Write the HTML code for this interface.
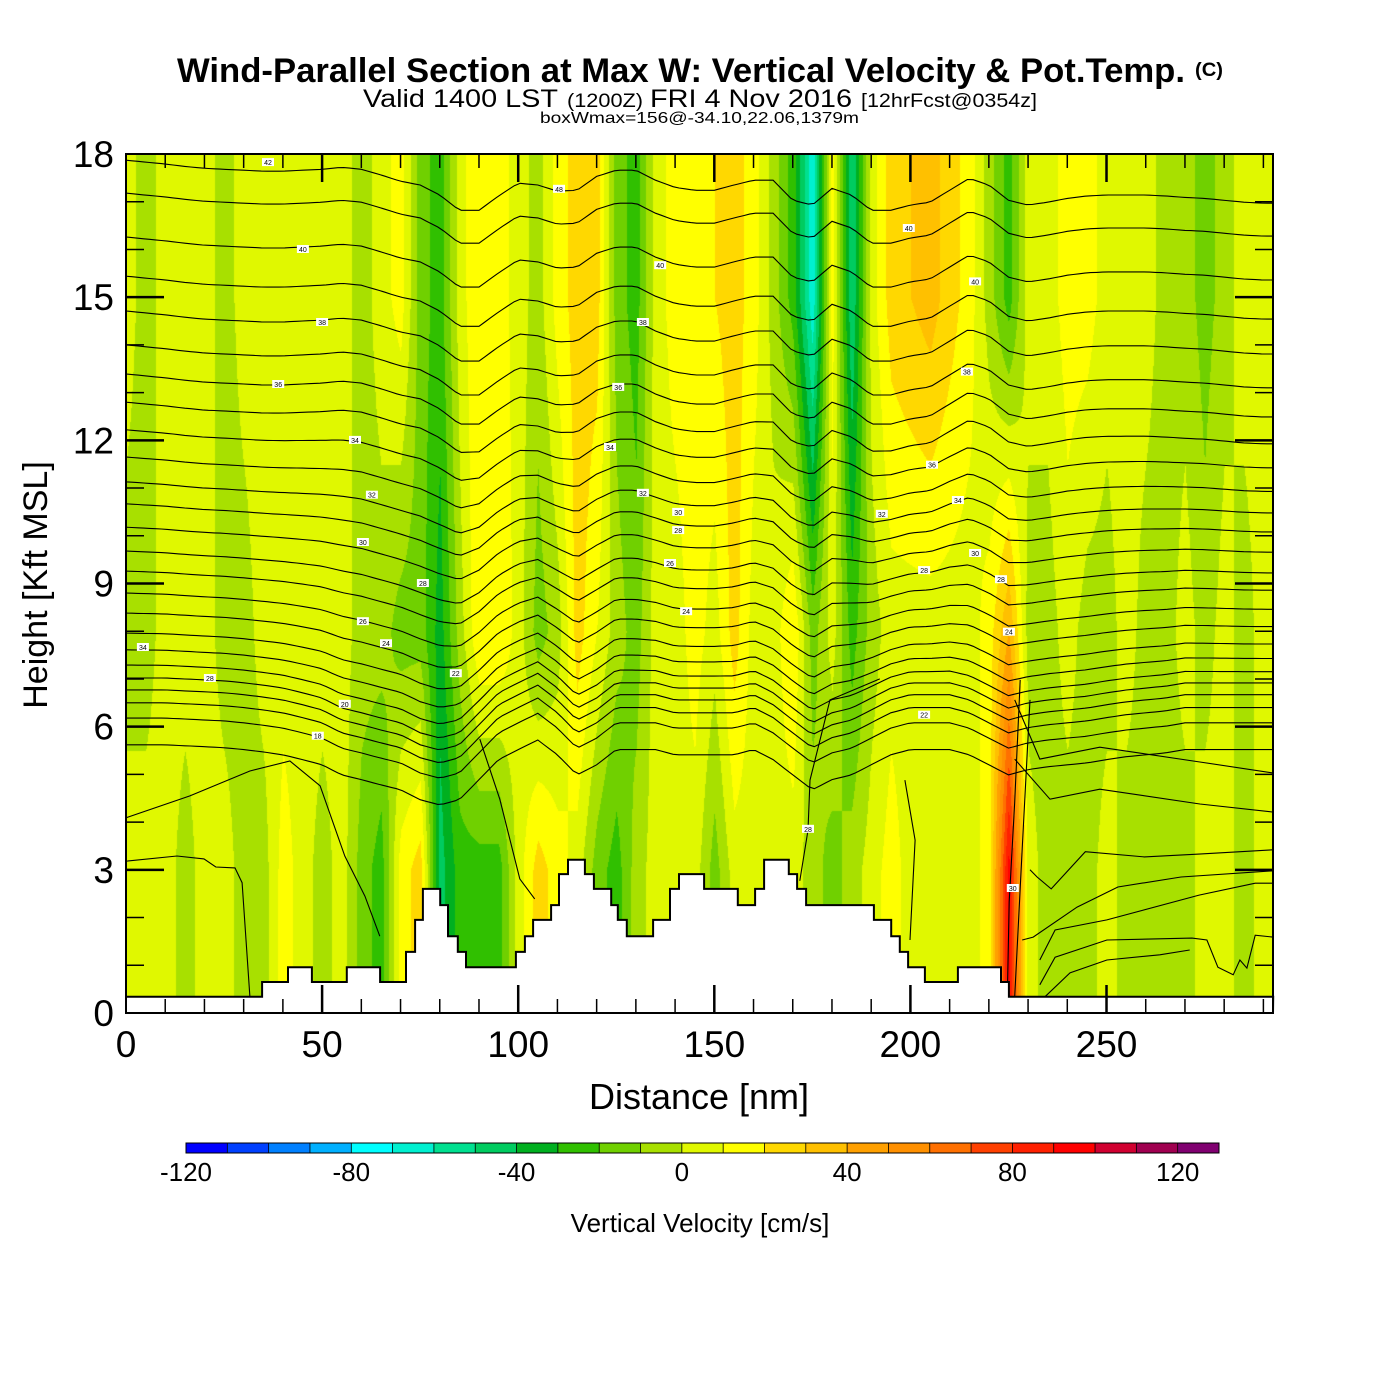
<!DOCTYPE html>
<html><head><meta charset="utf-8">
<style>
html,body{margin:0;padding:0;background:#fff;width:1400px;height:1400px;overflow:hidden}
#wrap{position:relative;width:1400px;height:1400px}
#field{position:absolute;left:126px;top:154px}
#ov{position:absolute;left:0;top:0}
text{font-family:"Liberation Sans",sans-serif}
</style></head>
<body>
<div id="wrap">
<canvas id="field" width="1147" height="859"></canvas>
<svg id="ov" width="1400" height="1400" xmlns="http://www.w3.org/2000/svg">
<g id="title">
<text x="177" y="82" font-size="34" font-weight="bold" textLength="1008" lengthAdjust="spacingAndGlyphs">Wind-Parallel Section at Max W: Vertical Velocity &amp; Pot.Temp.</text>
<text x="1195" y="76" font-size="19" font-weight="bold" textLength="28" lengthAdjust="spacingAndGlyphs">(C)</text>
<text x="363" y="107" font-size="25" textLength="195" lengthAdjust="spacingAndGlyphs">Valid 1400 LST</text>
<text x="567" y="107" font-size="19" textLength="76" lengthAdjust="spacingAndGlyphs">(1200Z)</text>
<text x="650" y="107" font-size="25" textLength="202" lengthAdjust="spacingAndGlyphs">FRI 4 Nov 2016</text>
<text x="861" y="107" font-size="19" textLength="176" lengthAdjust="spacingAndGlyphs">[12hrFcst@0354z]</text>
<text x="540" y="123" font-size="16" textLength="319" lengthAdjust="spacingAndGlyphs">boxWmax=156@-34.10,22.06,1379m</text>
</g>
<g id="lines"></g>
<g id="terrain"></g>
<g id="labels"></g>
<g id="axes"></g>
<g id="cbar"></g>
</svg>
</div>
<script>
// ---- data ----
const xStep = 5; // nm spacing of column arrays
const wTop = [5,-5,5,5,5,-5,5,5,5,5,5,5,-5,5,15,-15,-25,5,20,15,5,-5,15,25,25,-15,-25,5,15,15,20,25,15,-5,-25,-68,15,-50,5,25,30,35,25,15,-5,-25,5,5,15,15,5,5,5,-5,-5,-15,-5,5,5];
const wMid = [-5,-5,5,5,5,-5,-5,5,5,5,5,5,-5,-5,-15,-15,-35,-5,20,20,5,-15,-5,25,10,-5,-15,5,5,15,5,25,5,5,20,-15,5,-25,-5,5,5,5,5,5,15,40,-5,-5,5,-5,-5,5,-5,-5,5,-5,5,-5,5];
const wLow = [5,5,5,-5,5,5,-5,-5,15,5,-5,5,-15,-25,15,25,-45,-25,-25,-25,5,25,15,5,-15,-25,-5,5,5,5,-15,5,5,5,5,-5,-15,-5,5,15,5,5,5,5,15,95,5,-5,-5,-5,5,-5,-5,-5,-5,5,5,-5,5];
const levelKft = [3, 8, 15];
const binColors = ["#0000ff","#0040ff","#0080ff","#00b0ff","#00ffff","#00f0d0","#00e090","#00cc60","#00b020","#30c000","#70d000","#a8e000","#e0f800","#ffff00","#ffd800","#ffc000","#ffa000","#ff9000","#ff7000","#ff4000","#ff2000","#ff0000","#d00030","#a00050","#800070"];
const cbarTicks = [-120,-80,-40,0,40,80,120];
const terrainEdges = [0,34.7,41.3,47.4,56.3,64.8,71.4,73.7,75.7,80.1,82.1,84.6,86.7,99.4,101.7,103.8,108.4,110.4,112.7,117.0,119.3,123.7,125.4,127.7,134.4,138.7,141.0,147.4,156.0,160.4,162.7,169.0,171.1,173.4,190.7,195.1,197.3,199.4,203.7,212.1,223.1,225.1,292.5];
const terrainKft = [0.34,0.65,0.96,0.65,0.96,0.65,1.28,1.95,2.6,2.26,1.61,1.28,0.96,1.28,1.61,1.95,2.26,2.91,3.21,2.91,2.6,2.26,1.95,1.61,1.95,2.6,2.91,2.6,2.26,2.6,3.21,2.91,2.6,2.26,1.95,1.61,1.28,0.96,0.65,0.96,0.65,0.34];
const thetaBaseKft = [17.87,17.18,16.26,15.44,14.71,14.0,13.39,12.8,12.22,11.65,11.13,10.67,10.18,9.68,9.26,8.80,8.38,7.96,7.61,7.29,7.02,6.77,6.50,6.18,5.62];
const dispUpper = [0,-.04,-.08,-.13,-.17,-.19,-.21,-.23,-.23,-.21,-.19,-.15,-.19,-.31,-.44,-.52,-.73,-1.05,-1.05,-.75,-.48,-.52,-.65,-.63,-.34,-.21,-.21,-.42,-.57,-.63,-.63,-.52,-.42,-.42,-.84,-.94,-.59,-.73,-1.05,-1.05,-.94,-.88,-.63,-.38,-.52,-.84,-.94,-.88,-.8,-.75,-.73,-.73,-.73,-.75,-.78,-.8,-.84,-.88,-.9];
const dispLower = [0,0,0,-.02,-.04,-.06,-.1,-.15,-.21,-.31,-.42,-.63,-.73,-.84,-.94,-1.15,-1.26,-1.15,-.73,-.31,-.1,.1,-.21,-.63,-.42,-.1,-.1,-.1,-.21,-.21,-.21,-.21,-.1,-.31,-.63,-.94,-.73,-.63,-.42,-.21,-.1,-.1,-.1,-.21,-.42,-.63,-.52,-.46,-.42,-.38,-.31,-.25,-.21,-.17,-.1,-.1,-.1,-.1,-.1];
// low-level contour segments: nm and kft arrays
const lowLinesNm = [
 [226.6,233.0,248.3,273.8,292.5],
 [226.6,235.6,248.3,273.8,292.5],
 [230.5,232.3,235.9,244.6,259.6,273.6,292.5],
 [228.5,231.3,242.5,252.9,269.0,292.5],
 [233.0,236.9,250.1,273.6,287.9,292.5],
 [233.0,236.9,250.1,271.8,275.6,278.4,282.3,284.0,285.8,287.9,292.5],
 [234.3,240.7,250.1,263.6,271.2],
 [228.0,226.6,225.2,224.7],
 [230.5,228.5,226.6,226.6],
 [0,13.0,19.9,22.9,27.8,29.6,31.6],
 [0,16.3,31.6,41.8,49.5,55.8,60.9,64.7],
 [90.2,95.3,100.4,104.2],
 [192.2,179.5,174.4,173.9,171.8],
 [198.6,201.2,199.9]
];
const lowLinesKft = [
 [6.56,5.32,5.57,5.26,5.03],
 [5.32,4.48,4.69,4.38,4.21],
 [3.00,2.85,2.60,3.38,3.27,3.33,3.42],
 [1.53,1.59,2.22,2.64,2.85,2.98],
 [1.11,1.74,1.95,2.47,2.72,2.72],
 [0.59,1.17,1.53,1.57,1.53,0.96,0.80,1.11,0.94,1.63,1.59],
 [0.34,0.84,1.11,1.22,1.32],
 [6.98,4.42,2.33,0.34],
 [6.56,3.44,0.34,0.34],
 [3.18,3.29,3.23,3.06,3.04,2.73,0.34],
 [4.09,4.55,5.07,5.28,4.76,3.29,2.45,1.61],
 [5.74,4.48,2.81,2.39],
 [7.00,6.56,4.88,3.83,2.77],
 [4.88,3.62,1.53]
];
const labelText = ["42","40","38","36","34","32","30","26","24","22","20","18","34","28","48","40","38","36","34","32","30","28","26","24","40","40","38","36","34","32","30","28","28","24","22","28","30","28"];
const labelNm = [36.2,45.1,50.0,38.8,58.4,62.7,60.4,60.4,66.3,84.1,55.8,48.9,4.3,21.4,110.4,136.2,131.8,125.5,123.4,131.8,140.8,140.8,138.7,142.8,199.6,216.5,214.4,205.5,212.1,192.7,216.5,203.5,223.1,225.1,203.5,173.9,226.1,75.7];
const labelKft = [17.83,16.01,14.48,13.18,12.01,10.86,9.87,8.21,7.75,7.12,6.48,5.81,7.67,7.02,17.27,15.67,14.48,13.12,11.86,10.90,10.50,10.12,9.43,8.42,16.45,15.33,13.44,11.49,10.75,10.46,9.64,9.28,9.09,7.99,6.25,3.86,2.62,9.01];

// ---- scales ----
const X0=126, X1=1273, Y0=1013, Y1=154;
const pxPerNm=(X1-X0)/292.45, pxPerKft=(Y0-Y1)/18;
const xs = nm => X0 + nm*pxPerNm;
const ys = k => Y0 - k*pxPerKft;
const NS="http://www.w3.org/2000/svg";
function mk(tag, attrs, parent){const e=document.createElementNS(NS,tag);for(const k in attrs)e.setAttribute(k,attrs[k]);parent.appendChild(e);return e;}
function colInterp(arr, nm){const f=nm/xStep;const i=Math.max(0,Math.min(arr.length-2,Math.floor(f)));const t=Math.max(0,Math.min(1,f-i));return arr[i]*(1-t)+arr[i+1]*t;}
function binColorIdx(v){let b=Math.floor((v+120)/10);return Math.max(0,Math.min(24,b));}
function hex2rgb(h){return [parseInt(h.substr(1,2),16),parseInt(h.substr(3,2),16),parseInt(h.substr(5,2),16)];}

// ---- field ----
(function(){
 const cv=document.getElementById('field');const ctx=cv.getContext('2d');
 const W=cv.width,H=cv.height;const img=ctx.createImageData(W,H);const rgb=binColors.map(hex2rgb);
 for(let px=0;px<W;px++){
  const nm=px/pxPerNm;
  const a=colInterp(wLow,nm),b=colInterp(wMid,nm),c=colInterp(wTop,nm);
  for(let py=0;py<H;py++){
   const k=(H-py)/pxPerKft;let v;
   if(k<=levelKft[0])v=a;
   else if(k<=levelKft[1]){const t=(k-levelKft[0])/(levelKft[1]-levelKft[0]);v=a*(1-t)+b*t;}
   else if(k<=levelKft[2]){const t=(k-levelKft[1])/(levelKft[2]-levelKft[1]);v=b*(1-t)+c*t;}
   else v=c;
   const col=rgb[binColorIdx(v)];const o=(py*W+px)*4;
   img.data[o]=col[0];img.data[o+1]=col[1];img.data[o+2]=col[2];img.data[o+3]=255;
  }
 }
 ctx.putImageData(img,0,0);
})();

// ---- theta lines ----
(function(){
 const g=document.getElementById('lines');
 const cp=document.createElementNS(NS,'clipPath');cp.setAttribute('id','plotclip');
 mk('rect',{x:X0,y:Y1,width:X1-X0,height:Y0-Y1},cp);g.parentNode.insertBefore(cp,g);
 g.setAttribute('clip-path','url(#plotclip)');
 thetaBaseKft.forEach((base,li)=>{
  const w=Math.max(0,Math.min(1,(base-7)/6));
  let d='';
  for(let nm=0;nm<=292.5;nm+=1.5){
   const disp=w*colInterp(dispUpper,nm)+(1-w)*colInterp(dispLower,nm);
   d+=(nm===0?'M':'L')+xs(nm).toFixed(1)+' '+ys(base+disp).toFixed(1)+' ';
  }
  const p=mk('path',{d:d,fill:'none',stroke:'#000','stroke-width':1.1},g);
  
  
 });
 lowLinesNm.forEach((arr,li)=>{
  const ks=lowLinesKft[li];
  const d=arr.map((nm,i)=>(i?'L':'M')+xs(nm).toFixed(1)+' '+ys(ks[i]).toFixed(1)).join(' ');
  const p=mk('path',{d:d,fill:'none',stroke:'#000','stroke-width':1.1},g);
  
  
 });
})();

// ---- terrain ----
(function(){
 const g=document.getElementById('terrain');
 let d='M'+xs(0)+' '+Y0;
 terrainKft.forEach((k,i)=>{d+=' L'+xs(terrainEdges[i]).toFixed(1)+' '+ys(k).toFixed(1)+' L'+xs(terrainEdges[i+1]).toFixed(1)+' '+ys(k).toFixed(1);});
 d+=' L'+X1+' '+Y0+' Z';
 const p=mk('path',{d:d,fill:'#fff',stroke:'#000','stroke-width':2,'stroke-linejoin':'miter'},g);
 
 
})();

// ---- contour labels ----
(function(){
 const g=document.getElementById('labels');
 labelText.forEach((t,i)=>{
  const x=xs(labelNm[i]),y=ys(labelKft[i]);
  const r=mk('rect',{x:(x-6).toFixed(1),y:(y-4).toFixed(1),width:12,height:8,fill:'#fff'},g);
  
  
  const tx=mk('text',{x:x.toFixed(1),y:(y+3).toFixed(1),'font-size':7,'text-anchor':'middle',fill:'#000'},g);
  tx.textContent=t;
  
  
 });
})();

// ---- axes ----
(function(){
 const g=document.getElementById('axes');
 const fr=mk('rect',{x:X0,y:Y1,width:X1-X0,height:Y0-Y1,fill:'none',stroke:'#000','stroke-width':2},g);
 
 
 for(let nm=10;nm<=290;nm+=10){
  const x=xs(nm),L=(nm%50===0)?28:14;
  const t1=mk('line',{x1:x,x2:x,y1:Y0,y2:Y0-L,stroke:'#000','stroke-width':nm%50===0?2.5:1.5},g);
  
  
  const t2=mk('line',{x1:x,x2:x,y1:Y1,y2:Y1+L,stroke:'#000','stroke-width':nm%50===0?2.5:1.5},g);
  
  
 }
 for(let nm=0;nm<=250;nm+=50){
  const t=mk('text',{x:xs(nm),y:1057,'font-size':37,'text-anchor':'middle'},g);t.textContent=nm;
  
  
 }
 for(let k=1;k<18;k++){
  const y=ys(k),L=(k%3===0)?38:18;
  const t1=mk('line',{x1:X0,x2:X0+L,y1:y,y2:y,stroke:'#000','stroke-width':k%3===0?2.5:1.5},g);
  
  
  const t2=mk('line',{x1:X1,x2:X1-L,y1:y,y2:y,stroke:'#000','stroke-width':k%3===0?2.5:1.5},g);
  
  
 }
 for(let k=0;k<=18;k+=3){
  const t=mk('text',{x:114,y:ys(k)+13,'font-size':37,'text-anchor':'end'},g);t.textContent=k;
  
  
 }
 const xt=mk('text',{x:699,y:1109,'font-size':36,'text-anchor':'middle'},g);xt.textContent='Distance [nm]';
 
 
 const yt=mk('text',{x:47,y:585,'font-size':34,'text-anchor':'middle',transform:'rotate(-90 47 585)'},g);yt.textContent='Height [Kft MSL]';
 
 
})();

// ---- colorbar ----
(function(){
 const g=document.getElementById('cbar');
 const cx0=186,cx1=1219,cy=1143,ch=10,bw=(cx1-cx0)/binColors.length;
 binColors.forEach((c,i)=>{
  const r=mk('rect',{x:(cx0+i*bw).toFixed(2),y:cy,width:(bw+0.3).toFixed(2),height:ch,fill:c},g);
  
  
 });
 const bd=mk('rect',{x:cx0,y:cy,width:cx1-cx0,height:ch,fill:'none',stroke:'#000','stroke-width':1},g);
 
 
 binColors.forEach((c,i)=>{if(i>0){const l=mk('line',{x1:cx0+i*bw,x2:cx0+i*bw,y1:cy,y2:cy+ch,stroke:'#000','stroke-width':0.8},g);
  
  }});
 cbarTicks.forEach(v=>{
  const x=cx0+(v+120)/10*bw;
  const t=mk('text',{x:x,y:1181,'font-size':26,'text-anchor':'middle'},g);t.textContent=v;
  
  
 });
 const tt=mk('text',{x:700,y:1232,'font-size':26,'text-anchor':'middle'},g);tt.textContent='Vertical Velocity [cm/s]';
 
 
})();
</script>
</body></html>
